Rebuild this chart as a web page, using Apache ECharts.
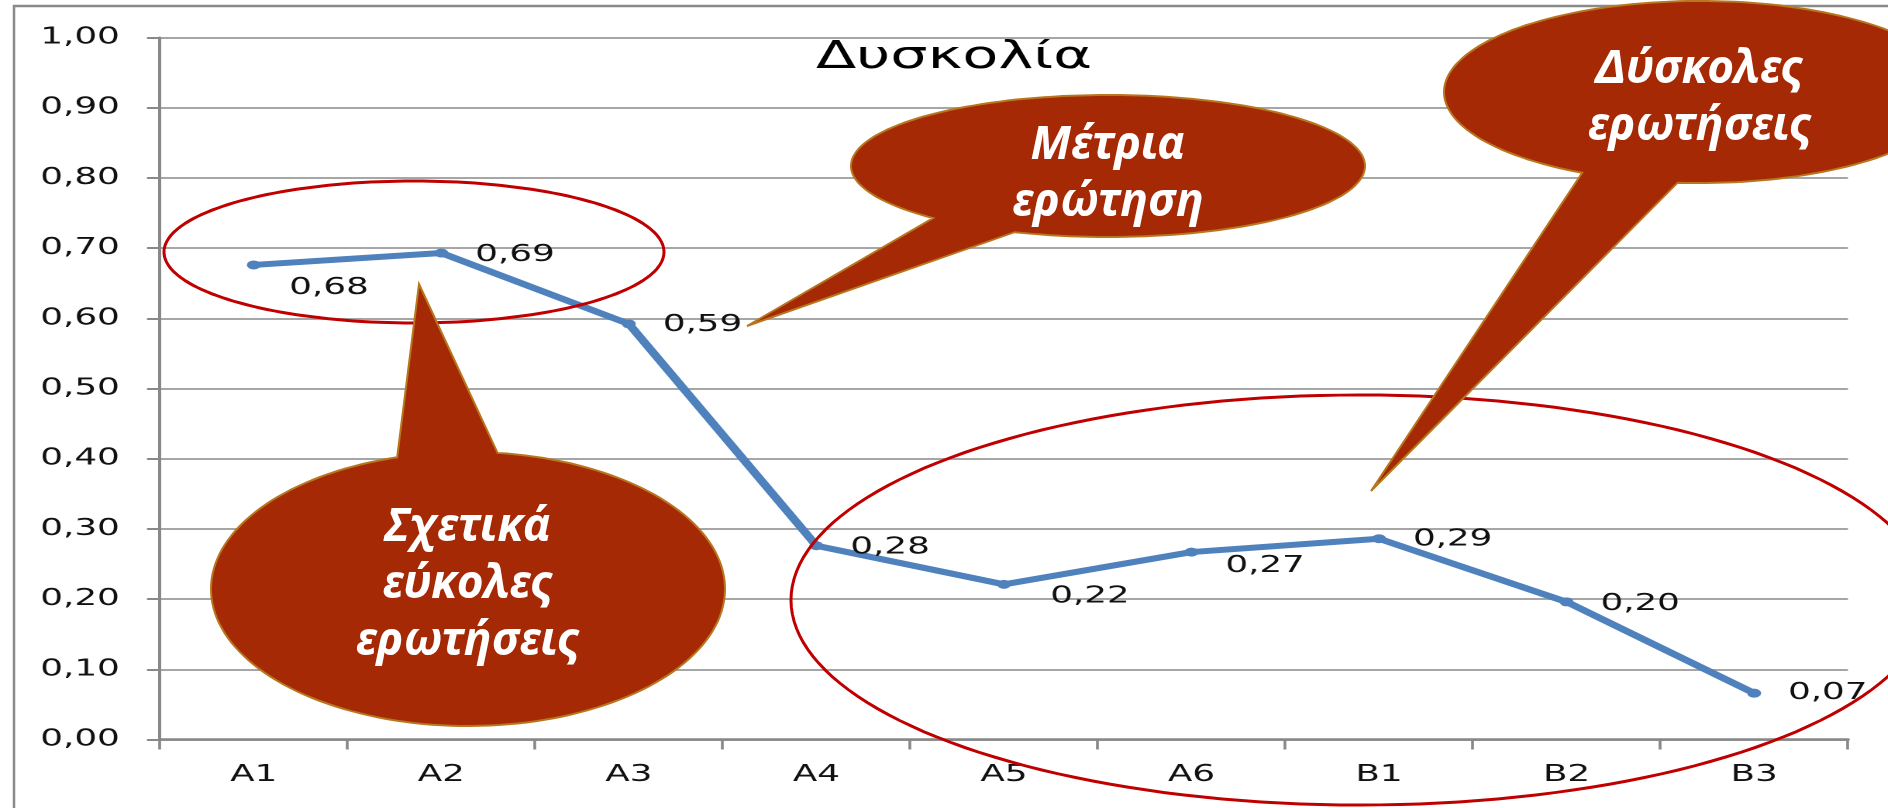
<!DOCTYPE html>
<html>
<head>
<meta charset="utf-8">
<title>Δυσκολία</title>
<script src="https://cdn.jsdelivr.net/npm/echarts@6/dist/echarts.min.js"></script>
<style>
  html, body { margin: 0; padding: 0; background: #fff; overflow: hidden; }
  #wrap { position: relative; width: 1888px; height: 808px; }
  #chart { position: absolute; left: 0; top: 0; height: 808px; transform-origin: 0 0; }
  #notes { position: absolute; left: 0; top: 0; width: 1888px; height: 808px; }
</style>
</head>
<body>
<div id="wrap">
  <div id="chart"></div>
  <div id="notes"></div>
</div>
<script>
'use strict';

/* data */
var questions = ['A1', 'A2', 'A3', 'A4', 'A5', 'A6', 'B1', 'B2', 'B3'];
var difficulty = [0.676, 0.693, 0.592, 0.276, 0.221, 0.267, 0.286, 0.196, 0.066];
var yTickLabels = ['0,00', '0,10', '0,20', '0,30', '0,40', '0,50', '0,60', '0,70', '0,80', '0,90', '1,00'];

/* label nudges (chart px), one per point */
var labelShift = [[1, 23], [0, 2], [0, 1], [0, 2], [8, 12], [0, 14], [0, 1], [0, 2], [0, 0]];

/* the source picture is stretched sideways, so the chart layer is too */
var k = 1.55;
var W = 1888, H = 808;

var chartDom = document.getElementById('chart');
chartDom.style.width = (W / k) + 'px';
chartDom.style.transform = 'scaleX(' + k + ')';

var fmt = function(v) {
    return v.toFixed(2).replace('.', ',');
};

var chart = echarts.init(chartDom, null, { renderer: 'canvas', devicePixelRatio: 2 });
chart.setOption({
    animation: false,
    backgroundColor: '#fff',
    textStyle: { fontFamily: 'DejaVu Sans' },
    grid: { left: 160 / k, right: 40 / k, top: 37.5, bottom: 68.5 },
    xAxis: {
        type: 'category',
        data: questions,
        boundaryGap: true,
        axisLine: { lineStyle: { color: '#888', width: 2.5 } },
        axisTick: { show: true, length: 10, lineStyle: { color: '#888', width: 1.8 } },
        axisLabel: { color: '#111', fontSize: 23, margin: 24, fontFamily: 'DejaVu Sans' },
        splitLine: { show: false }
    },
    yAxis: {
        type: 'value',
        min: 0,
        max: 1,
        interval: 0.1,
        axisLine: { show: true, lineStyle: { color: '#888', width: 2 } },
        axisTick: { show: true, length: 13 / k, lineStyle: { color: '#888', width: 2 } },
        axisLabel: {
            color: '#111',
            fontSize: 23,
            margin: 26,
            fontFamily: 'DejaVu Sans',
            formatter: function(v) { return yTickLabels[Math.round(v * 10)]; }
        },
        splitLine: { lineStyle: { color: '#a6a6a6', width: 2 } }
    },
    series: [{
        name: 'Δυσκολία',
        type: 'line',
        data: difficulty.map(function(v, i) {
            return { value: v, label: { offset: labelShift[i] } };
        }),
        symbol: 'circle',
        symbolSize: 9,
        lineStyle: { color: '#4f81bd', width: 6 },
        itemStyle: { color: '#4f81bd' },
        label: {
            show: true,
            position: 'right',
            distance: 17.4,
            color: '#111',
            fontSize: 23,
            fontFamily: 'DejaVu Sans',
            formatter: function(p) { return fmt(p.value); }
        }
    }],
    graphic: [{
        type: 'text',
        x: 954 / k,
        y: 39,
        style: {
            text: 'Δυσκολία',
            fill: '#000',
            fontSize: 38,
            fontFamily: 'DejaVu Sans',
            textAlign: 'center',
            textVerticalAlign: 'top'
        }
    }]
});

/* annotation layer: plain page pixels, not stretched */
var ellipsePts = function(cx, cy, rx, ry, from, to, n) {
    var pts = [];
    for (var i = 0; i <= n; i++) {
        var t = (from + (to - from) * i / n) * Math.PI / 180;
        pts.push([cx + rx * Math.cos(t), cy + ry * Math.sin(t)]);
    }
    return pts;
};

var rings = [
    { cx: 414, cy: 252, rx: 250, ry: 71 },
    { cx: 1360, cy: 600, rx: 569, ry: 205 }
];

var callouts = [
    { cx: 468, cy: 589, rx: 257, ry: 137, a1: -106, a2: -83.4, tip: [419, 284], text: 'Σχετικά\nεύκολες\nερωτήσεις', ty: 585 },
    { cx: 1108, cy: 166, rx: 257, ry: 71, a1: 111.3, a2: 132.9, tip: [747, 326], text: 'Μέτρια\nερώτηση', ty: 174 },
    { cx: 1700, cy: 92, rx: 256, ry: 91, a1: 95, a2: 117.4, tip: [1371, 491], text: 'Δύσκολες\nερωτήσεις', ty: 98 }
];

var notes = [];
notes.push({
    type: 'rect',
    shape: { x: 14, y: 6, width: 2000, height: 1000 },
    style: { fill: 'none', stroke: '#8a8a8a', lineWidth: 2.5 }
});
rings.forEach(function(r) {
    notes.push({
        type: 'polygon',
        shape: { points: ellipsePts(r.cx, r.cy, r.rx, r.ry, 0, 360, 180) },
        style: { fill: 'none', stroke: '#c00000', lineWidth: 3 }
    });
});
callouts.forEach(function(c) {
    var pts = [c.tip].concat(ellipsePts(c.cx, c.cy, c.rx, c.ry, c.a2, c.a1 + 360, 160));
    notes.push({
        type: 'polygon',
        shape: { points: pts },
        style: { fill: '#a52905', stroke: '#b8761e', lineWidth: 2 }
    });
    notes.push({
        type: 'text',
        x: c.cx,
        y: c.ty,
        style: {
            text: c.text,
            fill: '#fff',
            fontSize: 46,
            fontWeight: 'bold',
            fontStyle: 'italic',
            fontFamily: 'Noto Sans',
            lineHeight: 57,
            textAlign: 'center',
            textVerticalAlign: 'middle'
        }
    });
});

var notesChart = echarts.init(document.getElementById('notes'), null, { renderer: 'canvas' });
notesChart.setOption({
    animation: false,
    graphic: notes
});
</script>
</body>
</html>
